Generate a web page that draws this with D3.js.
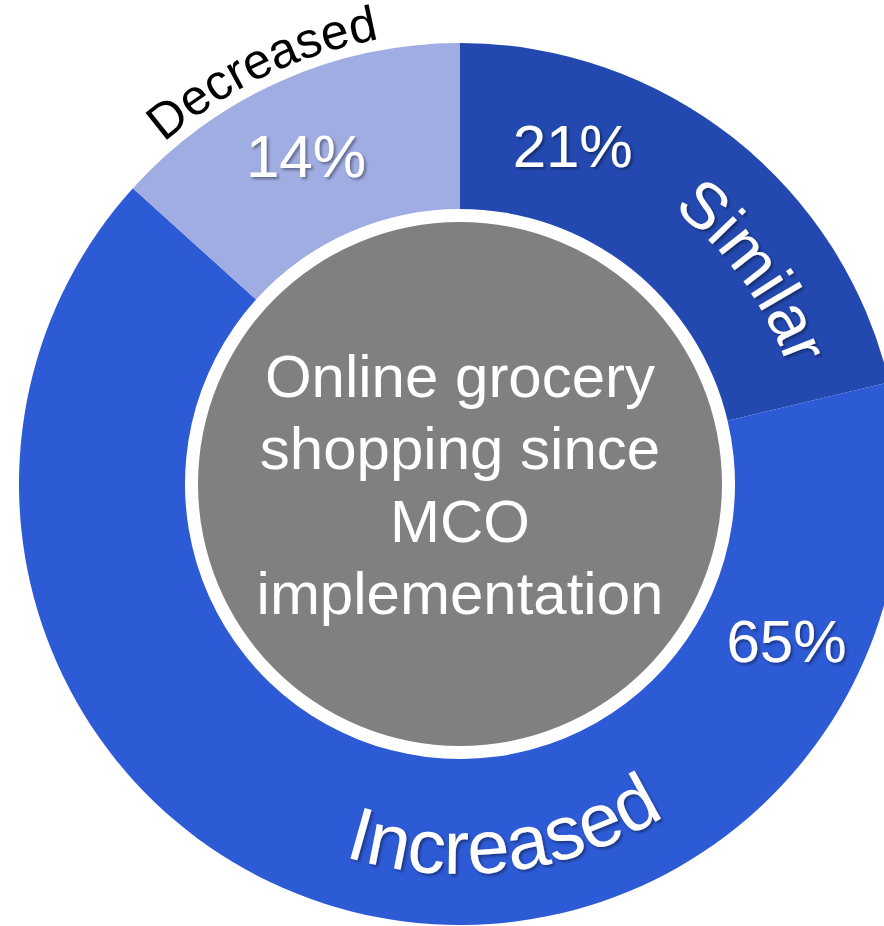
<!DOCTYPE html>
<html>
<head>
<meta charset="utf-8">
<script src="https://cdn.jsdelivr.net/npm/d3@7"></script>
<style>
body { margin: 0; background: #fff; }
text { font-family: "Liberation Sans", Arial, sans-serif; }
</style>
</head>
<body>
<div id="chart"></div>
<script>
///////////////////////////////////////////// Online grocery donut
var categories = ["Similar", "Increased", "Decreased"]
var shares = [21.3, 65.4, 13.3]
var percentLabels = ["21%", "65%", "14%"]
var centerLines = ["Online grocery", "shopping since", "MCO", "implementation"]
var sliceColors = ["#2349B1", "#2D5AD5", "#A0ADE3"]

var width = 884, height = 926
var cx = 460, cy = 484
var outerR = 441, innerR = 275, discR = 262
var rad = Math.PI / 180

// label layout: angle (deg, clockwise from top) and radius
var pctPos = [[18.4, 357], [115.6, 362], [-25.1, 363]]
var namePos = [
    { angle: 54, r: 348, size: 65, color: "#fff", ccw: false, shadow: true },
    { angle: 172.8, r: 390, size: 76, color: "#fff", ccw: true, shadow: true },
    { angle: -25.6, r: 452, size: 50, color: "#000", ccw: false, shadow: false }
]

var svg = d3.select("#chart")
    .append("svg")
        .attr("width", width)
        .attr("height", height)

var defs = svg.append("defs")
defs.append("filter")
    .attr("id", "shadow")
    .attr("x", "-20%").attr("y", "-20%")
    .attr("width", "140%").attr("height", "140%")
  .append("feDropShadow")
    .attr("dx", 2)
    .attr("dy", 2)
    .attr("stdDeviation", 1.5)
    .attr("flood-color", "#000")
    .attr("flood-opacity", 0.4)

var g = svg.append("g")
    .attr("transform", "translate(" + cx + "," + cy + ")")

var pie = d3.pie().sort(null).value(d => d)
var arc = d3.arc().innerRadius(innerR).outerRadius(outerR)

g.selectAll(".slice")
    .data(pie(shares))
    .join("path")
        .attr("class", "slice")
        .attr("d", arc)
        .attr("fill", (d, i) => sliceColors[i])

// centre disc
g.append("circle")
    .attr("r", discR)
    .attr("fill", "#808080")

var lineH = 72.5, centerSize = 60
g.selectAll(".center-line")
    .data(centerLines)
    .join("text")
        .attr("class", "center-line")
        .attr("x", 0)
        .attr("y", (d, i) => (i - (centerLines.length - 1) / 2) * lineH + centerSize * 0.716 / 2)
        .attr("text-anchor", "middle")
        .attr("font-size", centerSize + "px")
        .attr("fill", "#fff")
        .text(d => d)

// percentages
var pctSize = 60
g.selectAll(".pct")
    .data(percentLabels)
    .join("text")
        .attr("class", "pct")
        .attr("x", (d, i) => pctPos[i][1] * Math.sin(pctPos[i][0] * rad))
        .attr("y", (d, i) => -pctPos[i][1] * Math.cos(pctPos[i][0] * rad) + pctSize * 0.716 / 2)
        .attr("text-anchor", "middle")
        .attr("font-size", pctSize + "px")
        .attr("fill", "#fff")
        .attr("filter", "url(#shadow)")
        .text(d => d)

// category names bent along the ring
function arcPath(p) {
    var a = (p.angle - 90) * rad, h = 80 * rad
    var path = d3.path()
    var a0 = p.ccw ? a + h : a - h
    var a1 = p.ccw ? a - h : a + h
    path.moveTo(p.r * Math.cos(a0), p.r * Math.sin(a0))
    path.arc(0, 0, p.r, a0, a1, p.ccw)
    return path.toString()
}

namePos.forEach((p, i) => {
    g.append("path")
        .attr("id", "name-path-" + i)
        .attr("d", arcPath(p))
        .attr("fill", "none")
    g.append("text")
        .attr("font-size", p.size + "px")
        .attr("fill", p.color)
        .attr("filter", p.shadow ? "url(#shadow)" : null)
      .append("textPath")
        .attr("href", "#name-path-" + i)
        .attr("startOffset", "50%")
        .attr("text-anchor", "middle")
        .text(categories[i])
})
</script>
</body>
</html>
